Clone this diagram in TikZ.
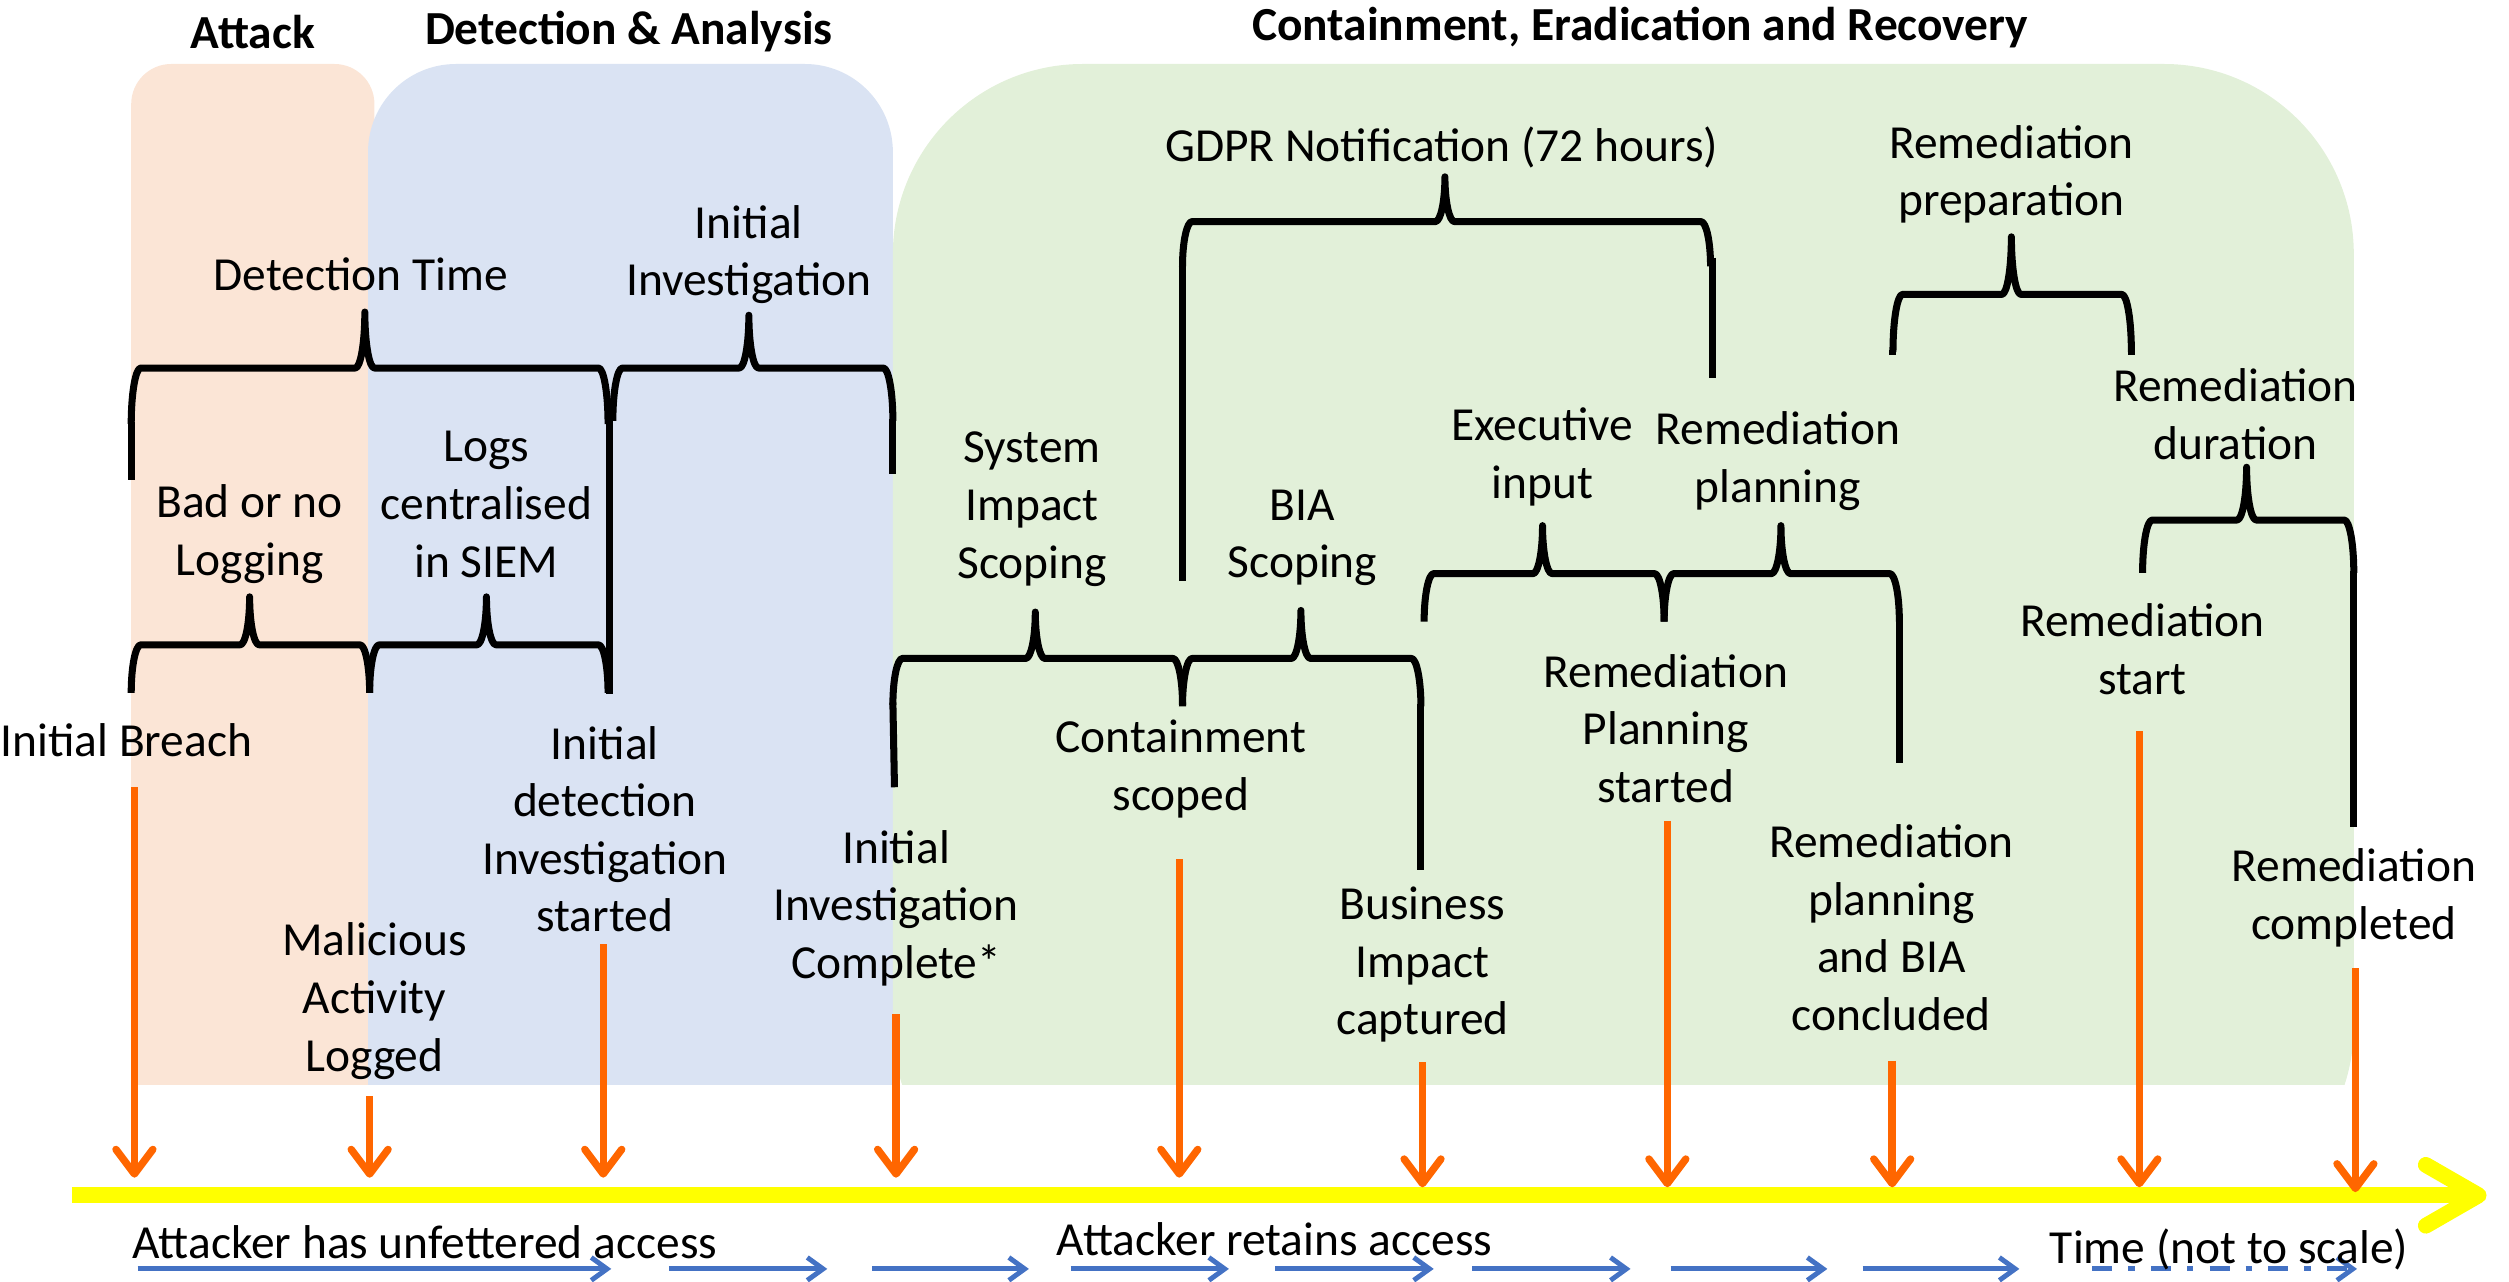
\documentclass[tikz,border=0pt]{standalone}
\usepackage{fontspec}
\setmainfont{Carlito}
\usetikzlibrary{arrows.meta,calc}

\definecolor{attackfill}{HTML}{FBE5D6}
\definecolor{detectfill}{HTML}{DAE3F3}
\definecolor{containfill}{HTML}{E2F0D9}
\definecolor{eventorange}{HTML}{FF6600}
\definecolor{accessblue}{HTML}{4472C4}
\definecolor{timeyellow}{HTML}{FFFF00}

\newcommand{\lblfont}{\fontsize{13.5pt}{16.4pt}\selectfont}

% horizontal curly brace: left end, tip, right end, bar height, tip/end drop
\newcommand{\curlybrace}[5]{%
  \draw[bracepen] (#1,{#4+#5}) .. controls (#1,{#4+0.45*#5}) and ({#1+2.7},#4) .. ({#1+6},#4)
    -- ({#2-6},#4) .. controls ({#2-2.7},#4) and (#2,{#4-0.45*#5}) .. (#2,{#4-#5})
    .. controls (#2,{#4-0.45*#5}) and ({#2+2.7},#4) .. ({#2+6},#4)
    -- ({#3-6},#4) .. controls ({#3-2.7},#4) and (#3,{#4+0.45*#5}) .. (#3,{#4+#5});}

\begin{document}
\begin{tikzpicture}[x=0.016cm, y=-0.016cm,
  lbl/.style={font=\lblfont, align=center, inner sep=0pt, yshift=-1.6pt,
    execute at begin node=\strut, execute at end node=\strut},
  phase/.style={font=\lblfont\bfseries, inner sep=0pt},
  bracepen/.style={line width=2pt, line join=round},
  legline/.style={line width=2pt},
  eventarrow/.style={draw=eventorange, line width=2.1pt,
    -{Straight Barb[length=7pt,width=10.5pt,round]}},
  accessarrow/.style={draw=accessblue, line width=1.4pt,
    -{Straight Barb[length=4.5pt,width=6.5pt]}},
  timeline/.style={draw=timeyellow, line width=4.5pt},
]
\useasboundingbox (0,0) rectangle (1568,801);

% phase backgrounds (rounded on top only)
\begin{scope}
  \clip (0,0) rectangle (1568,678);
  \fill[attackfill, rounded corners=0.4cm] (82,40) rectangle (234,760);
  \fill[detectfill, rounded corners=0.88cm] (230,40) rectangle (558,760);
  \fill[containfill, rounded corners=1.9cm] (558,40) rectangle (1471,760);
\end{scope}

% phase titles
\node[phase] (phAttack) at (158,20) {Attack};
\node[phase] (phDetect) at (393,20) {Detection \& Analysis};
\node[phase] (phContain) at (1025,17) {Containment, Eradication and Recovery};

% duration braces
\curlybrace{82}{228}{380}{230}{35}
\curlybrace{383}{468}{558}{230}{33}
\curlybrace{82}{156}{231}{403}{30}
\curlybrace{231}{304}{380}{403}{30}
\curlybrace{558}{647}{739}{411.5}{29}
\curlybrace{739}{813}{888}{411.5}{30}
\curlybrace{739}{903}{1069}{138.5}{28}
\curlybrace{890}{964}{1040}{358.5}{30}
\curlybrace{1040}{1113}{1187}{358.5}{30}
\curlybrace{1183}{1257}{1332}{184}{36}
\curlybrace{1339}{1404}{1471}{325}{33}

% brace legs extended down to their events
\draw[legline] (82,264) -- (82,300);
\draw[legline] (381,262) -- (381,434);
\draw[legline] (558,262) -- (558,296);
\draw[legline] (558,439) -- (559,492);
\draw[legline] (888,440) -- (888,544);
\draw[legline] (739,166) -- (739,363);
\draw[legline] (1070,161) -- (1070,236);
\draw[legline] (1187,387) -- (1187,477);
\draw[legline] (1183,219) -- (1183,222);
\draw[legline] (1332,219) -- (1332,222);
\draw[legline] (1471,357) -- (1471,517);

% duration labels
\node[lbl] (detTime) at (225.5,171) {Detection Time};
\node[lbl] (initInv) at (468,158.5) {Initial\\Investigation};
\node[lbl] (badLog) at (156,333) {Bad or no\\Logging};
\node[lbl] (siem) at (304,317) {Logs\\centralised\\in SIEM};
\node[lbl] (sysScope) at (645,317.5) {System\\Impact\\Scoping};
\node[lbl] (biaScope) at (814,335.5) {BIA\\Scoping};
\node[lbl] (gdpr) at (901,90) {GDPR Notification (72 hours)};
\node[lbl] (execIn) at (964,285) {Executive\\input};
\node[lbl] (remPlan) at (1111,287.5) {Remediation\\planning};
\node[lbl] (remPrep) at (1257,108.5) {Remediation\\preparation};
\node[lbl] (remDur) at (1397,260.5) {Remediation\\duration};

% event labels
\node[lbl] (evBreach) at (79,462) {Initial Breach};
\node[lbl] (evLogged) at (234,625) {Malicious\\Activity\\Logged};
\node[lbl] (evDetect) at (378,520) {Initial\\detection\\Investigation\\started};
\node[lbl] (evInvDone) at (560,567) {Initial\\Investigation\\Complete*};
\node[lbl] (evScoped) at (738,480) {Containment\\scoped};
\node[lbl] (evBIA) at (889,602.5) {Business\\Impact\\captured};
\node[lbl] (evPlanStart) at (1041,457) {Remediation\\Planning\\started};
\node[lbl] (evPlanDone) at (1182,581.5) {Remediation\\planning\\and BIA\\concluded};
\node[lbl] (evRemStart) at (1339,407.5) {Remediation\\start};
\node[lbl] (evRemDone) at (1471,560.5) {Remediation\\completed};

% time axis
\coordinate (axisStart) at (45,747);
\coordinate (axisEnd) at (1549,747);
\draw[timeline] (axisStart) -- (axisEnd);
\draw[timeline, line cap=round, line join=round]
  ($(axisEnd)+(-33,-19)$) -- (axisEnd) -- ($(axisEnd)+(-33,19)$);

% event arrows onto the time axis
\foreach \n/\x/\ya/\yb in {1/84/492/736, 2/231/685/736, 3/377/590/736,
    4/560/634/736, 5/737/537/736, 6/889/664/742, 7/1042/513/742,
    8/1182.5/663/742, 9/1337/457/742, 10/1472/605/745}{
  \coordinate (ev\n top) at (\x,\ya);
  \coordinate (ev\n tip) at (\x,\yb);
  \draw[eventarrow] (ev\n top) -- (ev\n tip);
}

% attacker access arrows
\foreach \n/\xa/\xb in {1/86/382, 2/418/517, 3/545/643, 4/669/768,
    5/797/896, 6/920/1019, 7/1044/1142, 8/1164/1262}{
  \coordinate (acc\n a) at (\xa,793);
  \coordinate (acc\n b) at (\xb,793);
  \draw[accessarrow] (acc\n a) -- (acc\n b);
}
\coordinate (acc9a) at (1307.5,793);
\coordinate (acc9b) at (1473,793);
\draw[accessarrow, dash pattern=on 5.7pt off 4.6pt on 1.8pt off 4.6pt] (acc9a) -- (acc9b);

\node[lbl] (accFree) at (265.5,776) {Attacker has unfettered access};
\node[lbl] (accKeep) at (796.5,774) {Attacker retains access};
\node[lbl] (timeNote) at (1393,779) {Time (not to scale)};
\end{tikzpicture}
\end{document}
